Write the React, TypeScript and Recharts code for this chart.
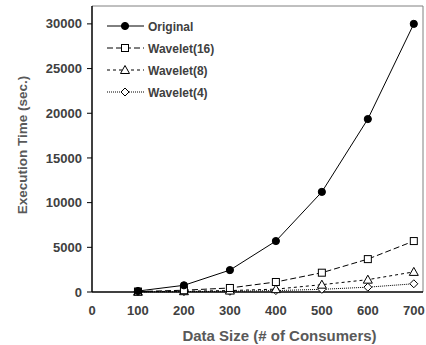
import { LineChart, Line, XAxis, YAxis, ReferenceLine } from 'recharts';

const sizes = [100, 200, 300, 400, 500, 600, 700];
const original = [110, 750, 2450, 5700, 11200, 19350, 30000];
const wavelet16 = [50, 200, 450, 1120, 2160, 3680, 5700];
const wavelet8 = [30, 90, 160, 320, 820, 1380, 2250];
const wavelet4 = [20, 40, 80, 160, 300, 540, 920];

const xTicks = [0, 100, 200, 300, 400, 500, 600, 700];
const yTicks = [0, 5000, 10000, 15000, 20000, 25000, 30000];

const data = sizes.map((s, i) => ({
  size: s,
  original: original[i],
  w16: wavelet16[i],
  w8: wavelet8[i],
  w4: wavelet4[i],
}));

const FONT = '"Liberation Sans", Arial, sans-serif';

type Shape = 'circle' | 'square' | 'triangle' | 'diamond';

function marker(shape: Shape, cx: number, cy: number, key?: string) {
  if (shape === 'circle') return <circle key={key} cx={cx} cy={cy} r={3.6} fill="#000" stroke="#000" />;
  if (shape === 'square')
    return <rect key={key} x={cx - 3.5} y={cy - 3.5} width={7} height={7} fill="#fff" stroke="#000" strokeWidth={1} />;
  if (shape === 'triangle')
    return (
      <polygon key={key} points={`${cx},${cy - 4.5} ${cx + 4.5},${cy + 3.5} ${cx - 4.5},${cy + 3.5}`} fill="#fff" stroke="#000" strokeWidth={1} />
    );
  return (
    <polygon key={key} points={`${cx},${cy - 4} ${cx + 4},${cy} ${cx},${cy + 4} ${cx - 4},${cy}`} fill="#fff" stroke="#000" strokeWidth={1} />
  );
}

const series = [
  { key: 'original', name: 'Original', shape: 'circle' as Shape, dash: undefined },
  { key: 'w16', name: 'Wavelet(16)', shape: 'square' as Shape, dash: '6 3' },
  { key: 'w8', name: 'Wavelet(8)', shape: 'triangle' as Shape, dash: '3 3' },
  { key: 'w4', name: 'Wavelet(4)', shape: 'diamond' as Shape, dash: '1 1' },
];

function LegendBox() {
  return (
    <svg width={150} height={90} style={{ position: 'absolute', left: 105, top: 18 }}>
      {series.map((s, i) => {
        const y = 8 + i * 22;
        return (
          <g key={s.key}>
            <line x1={2} x2={39} y1={y} y2={y} stroke="#000" strokeWidth={1} strokeDasharray={s.dash} />
            {marker(s.shape, 20, y)}
            <text x={43} y={y + 4.5} fontFamily={FONT} fontWeight="bold" fontSize={12} fill="#404040">
              {s.name}
            </text>
          </g>
        );
      })}
    </svg>
  );
}

export default function App() {
  return (
    <div style={{ position: 'absolute', left: 0, top: 0, width: 426, height: 345, background: '#fff' }}>
      <LineChart width={426} height={345} data={data} margin={{ top: 6, right: 3, left: 0, bottom: 0 }}>
        <XAxis
          dataKey="size"
          type="number"
          domain={[0, 720]}
          ticks={xTicks}
          tickLine={false}
          axisLine={{ stroke: '#000', strokeWidth: 1.5 }}
          tickMargin={8}
          height={53}
          tick={{ fontFamily: FONT, fontWeight: 'bold', fontSize: 13, fill: '#404040' }}
          label={{
            value: 'Data Size (# of Consumers)',
            position: 'insideBottom',
            offset: 4,
            dx: 22,
            fill: '#595959',
            style: { fontFamily: FONT, fontWeight: 'bold', fontSize: 15, fill: '#595959' },
          }}
        />
        <YAxis
          type="number"
          domain={[0, 32000]}
          ticks={yTicks}
          tickSize={5}
          tickMargin={5}
          width={92}
          axisLine={{ stroke: '#000', strokeWidth: 1.5 }}
          tickLine={{ stroke: '#000' }}
          tick={{ fontFamily: FONT, fontWeight: 'bold', fontSize: 13, fill: '#404040' }}
          label={{
            value: 'Execution Time (sec.)',
            angle: -90,
            position: 'insideLeft',
            offset: 22,
            dy: -4,
            fill: '#595959',
            style: { fontFamily: FONT, fontWeight: 'bold', fontSize: 13.5, fill: '#595959', textAnchor: 'middle' },
          }}
        />
        <ReferenceLine y={32000} stroke="#808080" strokeWidth={1} />
        <ReferenceLine x={720} stroke="#808080" strokeWidth={1} />
        {series
          .slice()
          .reverse()
          .map((s) => (
            <Line
              key={s.key}
              dataKey={s.key}
              name={s.name}
              type="linear"
              stroke="#000"
              strokeWidth={1}
              strokeDasharray={s.dash}
              isAnimationActive={false}
              dot={(p: any) => marker(s.shape, p.cx, p.cy, `${s.key}-${p.index}`)}
              activeDot={false}
            />
          ))}
      </LineChart>
      <LegendBox />
    </div>
  );
}
